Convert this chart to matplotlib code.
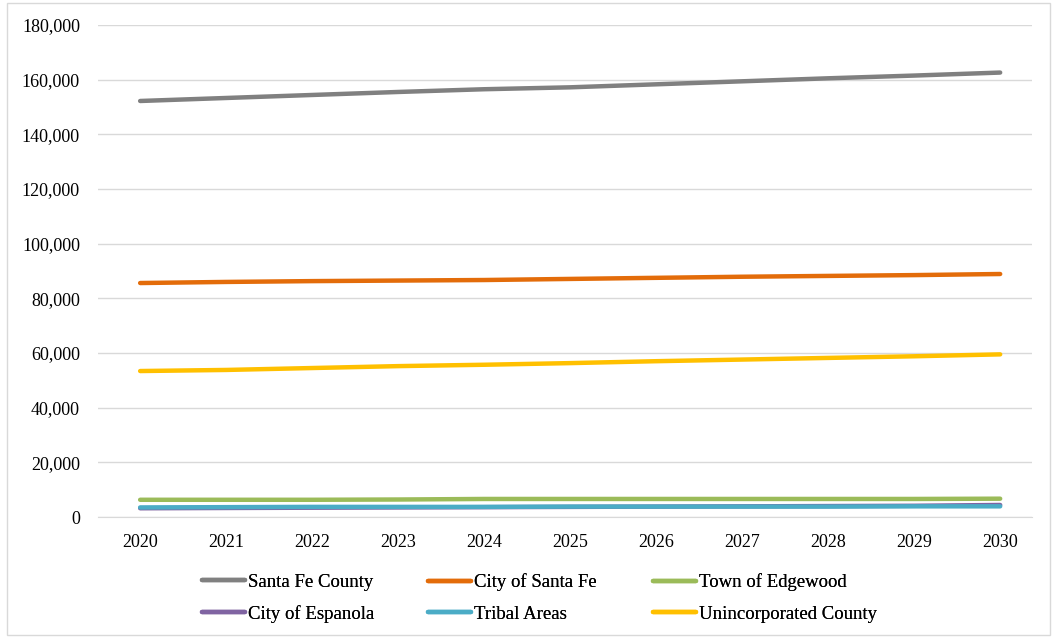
import matplotlib.pyplot as plt
from matplotlib.patches import Rectangle
from matplotlib.ticker import FuncFormatter

plt.rcParams['font.family'] = ['Liberation Serif', 'DejaVu Serif']

years = ['2020', '2021', '2022', '2023', '2024', '2025', '2026', '2027', '2028', '2029', '2030']

santa_fe_county = [152200, 153300, 154400, 155500, 156500, 157200, 158300, 159400, 160500, 161500, 162600]
city_santa_fe = [85600, 86000, 86300, 86500, 86700, 87100, 87500, 87900, 88200, 88500, 88900]
edgewood = [6300, 6300, 6300, 6400, 6600, 6600, 6600, 6600, 6600, 6600, 6700]
espanola = [3200, 3300, 3400, 3500, 3600, 3700, 3800, 3900, 4000, 4100, 4400]
tribal = [3500, 3600, 3700, 3700, 3700, 3800, 3800, 3800, 3800, 3900, 3900]
unincorporated = [53400, 53800, 54500, 55200, 55700, 56300, 57000, 57600, 58200, 58800, 59500]

series = [
    ('Santa Fe County', santa_fe_county, '#808080'),
    ('City of Santa Fe', city_santa_fe, '#E36C0A'),
    ('Town of Edgewood', edgewood, '#9BBB59'),
    ('City of Espanola', espanola, '#8064A2'),
    ('Tribal Areas', tribal, '#4BACC6'),
    ('Unincorporated County', unincorporated, '#FFC000'),
]

fig = plt.figure(figsize=(10.57, 6.38), dpi=100)
ax = fig.add_axes([98 / 1057, 1 - 517 / 638, (1032 - 98) / 1057, (517 - 25) / 638])

x = list(range(len(years)))
lines = []
for name, vals, col in series:
    ln, = ax.plot(x, vals, color=col, lw=3.2, solid_capstyle='round', label=name)
    lines.append(ln)

ax.set_ylim(0, 180000)
ax.set_yticks(range(0, 180001, 20000))
ax.yaxis.set_major_formatter(FuncFormatter(lambda v, p: f'{int(v):,}'))
ax.set_xlim(-0.49, 10.37)
ax.set_xticks(x)
ax.set_xticklabels(years)
ax.grid(axis='y', color='#D9D9D9', lw=1)
ax.set_axisbelow(True)
for s in ['left', 'right', 'top']:
    ax.spines[s].set_visible(False)
ax.spines['bottom'].set_color('#D9D9D9')
ax.tick_params(length=0, labelsize=13, colors='black')
ax.tick_params(axis='x', pad=12)
ax.tick_params(axis='y', pad=13)

# Excel-style legend: 3 equally spaced columns, 2 rows, read row by row
col_x = [202, 428, 653]
for c in range(3):
    idx = [c, c + 3]
    leg = fig.legend([lines[i] for i in idx], [series[i][0] for i in idx],
                     loc='center left', bbox_to_anchor=(col_x[c] / 1057, 1 - 598 / 638),
                     frameon=False, fontsize=13.5, handlelength=2.3, handletextpad=0.15,
                     labelspacing=0.75, borderpad=0, borderaxespad=0)
    fig.add_artist(leg)

fig.patches.append(Rectangle((7 / 1057, 3 / 638), 1043 / 1057, 632 / 638,
                             transform=fig.transFigure, fill=False,
                             edgecolor='#D9D9D9', lw=1))

fig.savefig('out.png', dpi=100)
